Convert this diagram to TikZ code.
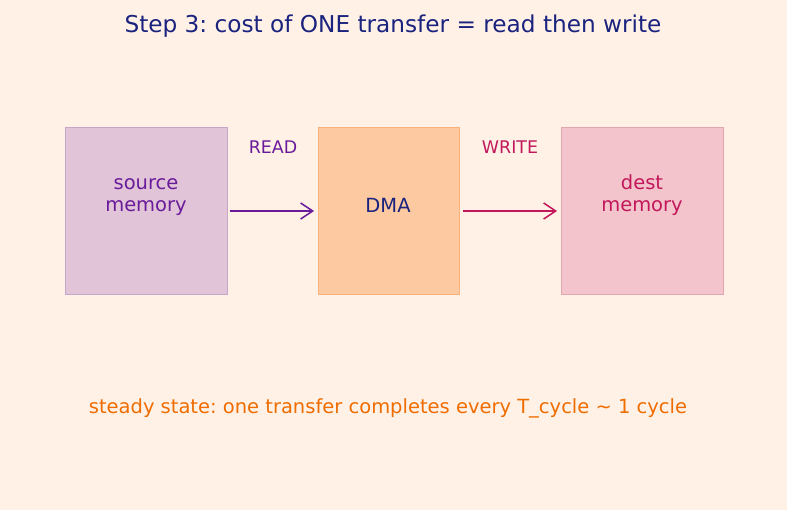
\documentclass[tikz,border=0pt]{standalone}
\usepackage{fontspec}
\setmainfont{DejaVu Sans}
\frenchspacing
\usetikzlibrary{arrows.meta}
\definecolor{bg}{HTML}{FFF1E6}
\definecolor{navy}{HTML}{1A237E}
\definecolor{purp}{HTML}{6A1B9A}
\definecolor{pinkc}{HTML}{C2185B}
\definecolor{orangec}{HTML}{EF6C00}
\definecolor{srcfill}{HTML}{E1C4D8}
\definecolor{srcdraw}{HTML}{C9A6C9}
\definecolor{dmafill}{HTML}{FCC9A0}
\definecolor{dmadraw}{HTML}{F7B27C}
\definecolor{dstfill}{HTML}{F3C4CB}
\definecolor{dstdraw}{HTML}{E2A6B0}
\tikzset{
  box/.style={draw, line width=1pt, anchor=north west, inner sep=0pt, align=center},
  lbl/.style={font=\fontsize{17.4}{20}\selectfont},
  boxtxt/.style={font=\fontsize{19.5}{22.5}\selectfont, align=center},
  conn/.style={line width=1.5pt, -{Straight Barb[length=12pt,width=16pt,line width=1.5pt]}}
}
\begin{document}
\begin{tikzpicture}[x=1pt,y=-1pt]
\fill[bg] (0,0) rectangle (787,510);
\useasboundingbox (0,0) rectangle (787,510);
\node[text=navy, font=\fontsize{23.2}{27}\selectfont] (title) at (393,26) {Step 3: cost of ONE transfer = read then write};
\node[box, fill=srcfill, draw=srcdraw, minimum width=162pt, minimum height=167pt] (src) at (65,127) {};
\node[box, fill=dmafill, draw=dmadraw, minimum width=141pt, minimum height=167pt] (dma) at (318,127) {};
\node[box, fill=dstfill, draw=dstdraw, minimum width=162pt, minimum height=167pt] (dst) at (561,127) {};
\node[boxtxt, text=purp] (srct) at (146,197) {source\\memory};
\node[boxtxt, text=navy] (dmat) at (388,205) {DMA};
\node[boxtxt, text=pinkc] (dstt) at (642,195) {dest\\memory};
\coordinate (a1) at (230,211);
\coordinate (a2) at (314,211);
\coordinate (b1) at (463,211);
\coordinate (b2) at (557,211);
\draw[conn, purp] (a1) -- (a2);
\draw[conn, pinkc] (b1) -- (b2);
\node[lbl, text=purp] (read) at (273,147) {READ};
\node[lbl, text=pinkc] (write) at (510,147) {WRITE};
\node[text=orangec, font=\fontsize{19.5}{22}\selectfont] (bottom) at (388,408) {steady state: one transfer completes every T\_cycle \textasciitilde{} 1 cycle};
\end{tikzpicture}
\end{document}
